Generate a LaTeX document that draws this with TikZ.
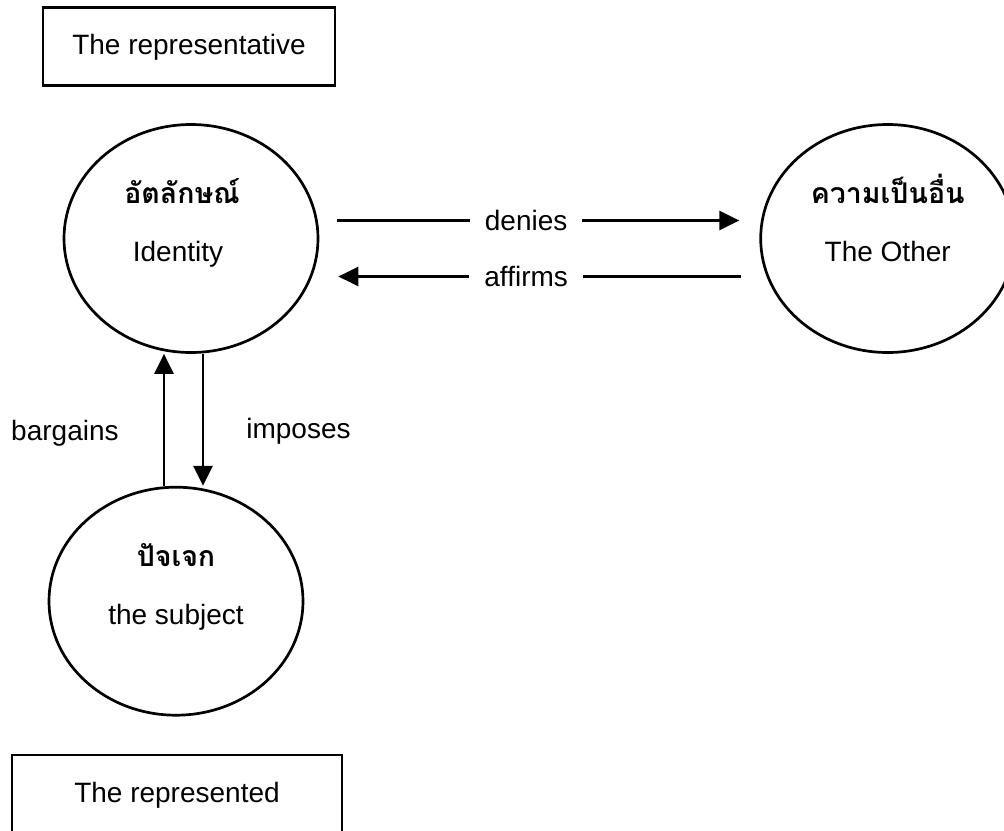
\documentclass[tikz,border=0pt]{standalone}
\usepackage{fontspec}
\setmainfont{Liberation Sans}
\newfontfamily\thaifont[Script=Thai]{Loma}
\usetikzlibrary{positioning, shapes.geometric, arrows.meta}

\begin{document}
\begin{tikzpicture}[x=1pt, y=-1pt, line width=2.7pt,
  >={Triangle[length=20pt,width=19pt]},
  main node/.style={ellipse,draw,minimum width=254pt,minimum height=228pt,inner sep=0pt},
  box node/.style={rectangle,draw,minimum height=78pt,inner sep=0pt,font=\fontsize{28}{34}\selectfont},
  eng text/.style={anchor=base,inner sep=0pt,font=\fontsize{28}{34}\selectfont},
  thai text/.style={anchor=base,inner sep=0pt,font=\thaifont\bfseries\fontsize{28.5}{34}\selectfont}]

\useasboundingbox (0,0) rectangle (1004,830);

\node[main node] (id) at (191,238.5) {};
\node[main node] (oth) [right=440pt of id] {};
\node[main node] (sub) [below=132pt of id, xshift=-15pt] {};
\node[box node, minimum width=292pt] (rep) [above=36pt of id, xshift=-2pt] {The representative};
\node[box node, minimum width=330pt, minimum height=80pt] (rpd) [below=37pt of sub, xshift=1pt] {The represented};

% texts in the circles
\node[thai text] (idth) at ([xshift=-9pt,yshift=35pt]id.center) {อัตลักษณ์};
\node[eng text] (iden) at ([xshift=-13pt,yshift=-23pt]id.center) {Identity};
\node[thai text] (otth) at ([yshift=35pt]oth.center) {ความเป็นอื่น};
\node[eng text] (oten) at ([yshift=-23pt]oth.center) {The Other};
\node[thai text] (suth) at ([yshift=35pt]sub.center) {ปัจเจก};
\node[eng text] (suen) at ([yshift=-23pt]sub.center) {the subject};

\path[every node/.style={font=\fontsize{28}{34}\selectfont}]
([yshift=18pt]id.east) edge[->, shorten <=18pt, shorten >=20pt]
  node[pos=0.47, fill=white, inner xsep=15pt, inner ysep=0pt] {denies} ([yshift=18pt]oth.west)
([yshift=-38pt]oth.west) edge[->, shorten <=18pt, shorten >=19pt]
  node[pos=0.53, fill=white, inner xsep=15pt, inner ysep=0pt] {affirms} ([yshift=-38pt]id.east)
([xshift=-12pt]sub.north) edge[->]
  node[pos=0.4, left=44pt, inner sep=0pt] {bargains} ([xshift=-27pt]id.south)
([xshift=12pt]id.south) edge[->]
  node[pos=0.59, right=42pt, inner sep=0pt] {imposes} ([xshift=27pt]sub.north)
;

\end{tikzpicture}
\end{document}
